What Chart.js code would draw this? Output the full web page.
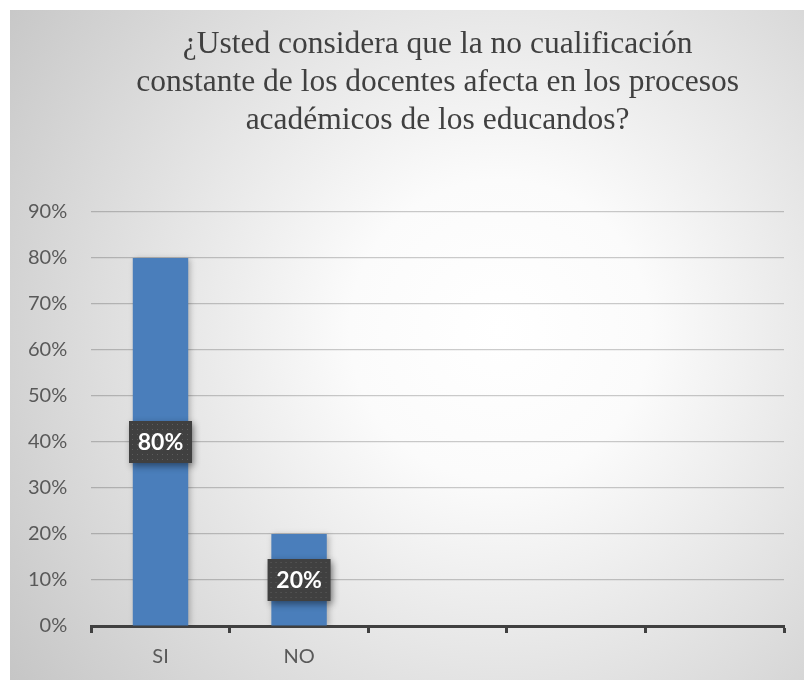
<!DOCTYPE html>
<html>
<head>
<meta charset="utf-8">
<script src="https://cdn.jsdelivr.net/npm/chart.js@4.4.0/dist/chart.umd.min.js"></script>
<style>
    body { margin: 0; background: #ffffff; }
    #box { position: absolute; left: 10px; top: 10px; width: 794px; height: 670px; }
</style>
</head>
<body>
<div id="box"><canvas id="myChart" width="794" height="670"></canvas></div>
<script>
    // donnees du graphique
    let titre = ['¿Usted considera que la no cualificación',
                 'constante de los docentes afecta en los procesos',
                 'académicos de los educandos?'];
    let labels = ['SI', 'NO', '', '', ''];
    let valeurs = [80, 20, null, null, null];
    let ticksY = [0, 10, 20, 30, 40, 50, 60, 70, 80, 90];

    // fond degrade gris / blanc
    let fond = {
        id: 'fond',
        beforeDraw: function(chart){
            let ctx = chart.ctx;
            let g = ctx.createRadialGradient(490, 320, 0, 490, 320, 600);
            g.addColorStop(0, '#ffffff');
            g.addColorStop(0.25, '#fbfbfb');
            g.addColorStop(1, '#c6c6c6');
            ctx.save();
            ctx.fillStyle = g;
            ctx.fillRect(0, 0, chart.width, chart.height);
            ctx.restore();
        }
    };

    // titre centre sur la zone du graphique
    let titrePlugin = {
        id: 'titrePlugin',
        afterDraw: function(chart){
            let ctx = chart.ctx;
            let a = chart.chartArea;
            let cx = (a.left + a.right) / 2;
            ctx.save();
            ctx.fillStyle = '#404040';
            ctx.font = '31.5px "Liberation Serif", "Times New Roman", serif';
            ctx.textAlign = 'center';
            ctx.textBaseline = 'middle';
            for (let i = 0; i < titre.length; i++) {
                ctx.fillText(titre[i], cx, 35 + i * 38);
            }
            ctx.restore();
        }
    };

    // ombre des barres
    let ombre = {
        id: 'ombre',
        beforeDatasetsDraw: function(chart){
            let ctx = chart.ctx;
            ctx.save();
            ctx.shadowColor = 'rgba(0,0,0,0.25)';
            ctx.shadowBlur = 6;
            ctx.shadowOffsetX = 2;
            ctx.shadowOffsetY = 1;
        },
        afterDatasetsDraw: function(chart){
            chart.ctx.restore();
        }
    };

    // etiquettes de donnees (boite sombre au milieu de la barre)
    let etiquettes = {
        id: 'etiquettes',
        afterDatasetsDraw: function(chart){
            let ctx = chart.ctx;
            let meta = chart.getDatasetMeta(0);
            let y = chart.scales.y;
            meta.data.forEach(function(bar, i){
                let v = valeurs[i];
                if (v === null) return;
                let cx = bar.x;
                let cy = y.getPixelForValue(v / 2);
                let w = 63, h = 42;
                let x0 = cx - w / 2, y0 = cy - h / 2;
                ctx.save();
                ctx.shadowColor = 'rgba(0,0,0,0.45)';
                ctx.shadowBlur = 7;
                ctx.shadowOffsetX = 2;
                ctx.shadowOffsetY = 3;
                ctx.fillStyle = '#404040';
                ctx.fillRect(x0, y0, w, h);
                ctx.restore();
                ctx.save();
                ctx.fillStyle = '#5e5e5e';
                for (let px = x0 + 3; px < x0 + w; px += 5) {
                    for (let py = y0 + 3; py < y0 + h; py += 5) {
                        ctx.fillRect(px, py, 1, 1);
                    }
                }
                ctx.fillStyle = '#ffffff';
                ctx.font = 'bold 23px Lato, "Open Sans", sans-serif';
                ctx.textAlign = 'center';
                ctx.textBaseline = 'middle';
                ctx.fillText(v + '%', cx, cy + 1);
                ctx.restore();
            });
        }
    };

    let myChart = document.getElementById('myChart').getContext('2d');

    let chart1 = new Chart(myChart, {
        type: 'bar',
        data: {
            labels: labels,
            datasets: [{
                data: valeurs,
                backgroundColor: '#4a7ebb',
                barPercentage: 0.4,
                categoryPercentage: 1
            }]
        },
        options: {
            responsive: false,
            animation: false,
            layout: {
                padding: { top: 202, left: -6, right: 20, bottom: -1 }
            },
            plugins: {
                legend: { display: false },
                title: { display: false },
                tooltip: { enabled: false }
            },
            scales: {
                y: {
                    min: 0,
                    max: 90,
                    afterBuildTicks: function(axis){
                        axis.ticks = ticksY.map(function(v){ return { value: v }; });
                    },
                    border: { display: false },
                    grid: { color: 'rgba(0,0,0,0.2)', lineWidth: 1.2, drawTicks: false },
                    ticks: {
                        padding: 24,
                        color: '#595959',
                        font: { family: 'Lato, "Open Sans", sans-serif', size: 20 },
                        callback: function(v){ return v + '%'; }
                    }
                },
                x: {
                    border: { color: '#404040', width: 3 },
                    grid: {
                        drawOnChartArea: false,
                        drawTicks: true,
                        tickLength: 7,
                        tickWidth: 3,
                        tickColor: '#404040'
                    },
                    ticks: {
                        padding: 12,
                        color: '#595959',
                        font: { family: 'Lato, "Open Sans", sans-serif', size: 20 }
                    }
                }
            }
        },
        plugins: [fond, ombre, etiquettes, titrePlugin]
    });
</script>
</body>
</html>
